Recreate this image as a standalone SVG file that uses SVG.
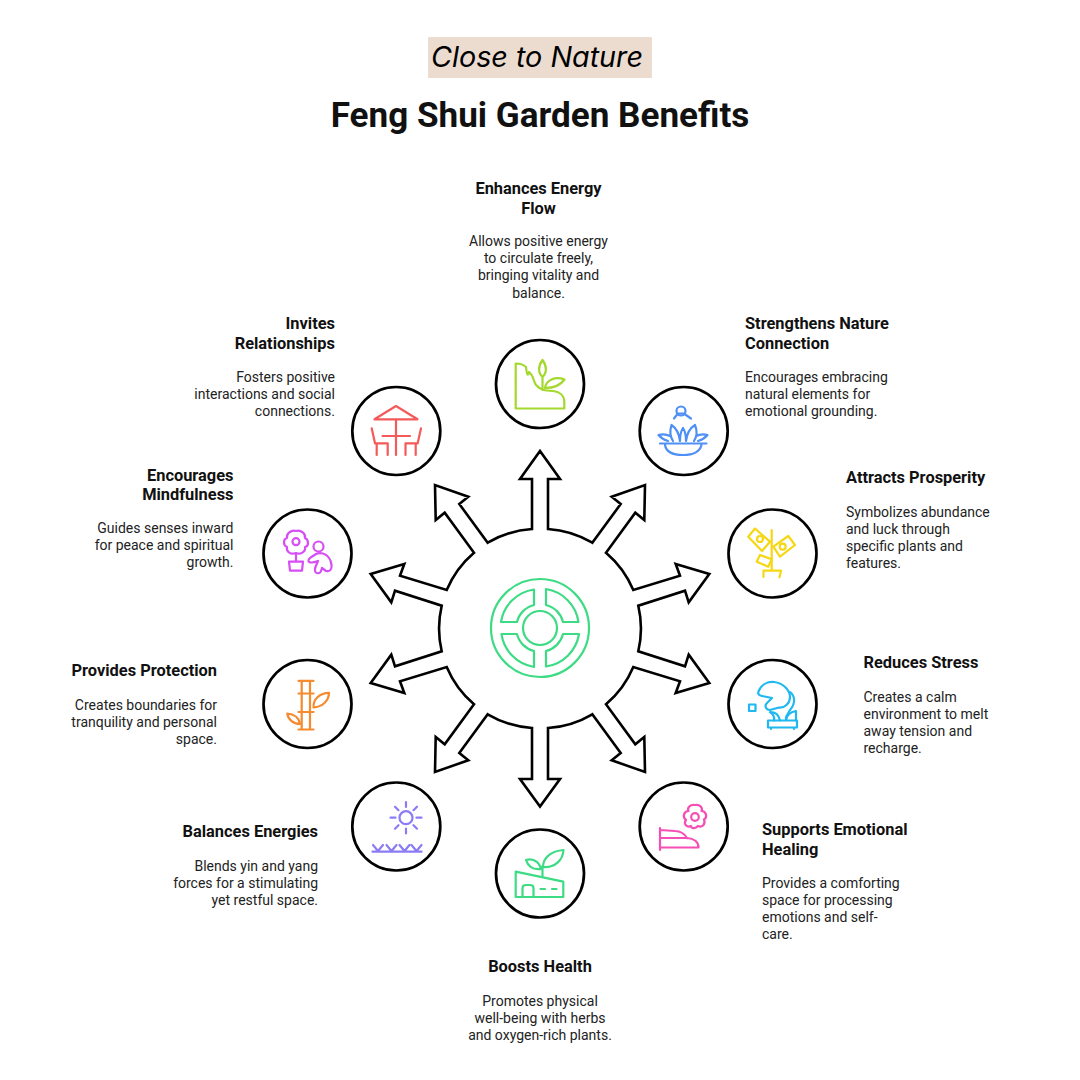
<svg xmlns="http://www.w3.org/2000/svg" width="1080" height="1080" viewBox="0 0 1080 1080">
<style>
text{font-family:Roboto,"Liberation Sans",sans-serif;fill:#111}
.h{font-size:16.4px;font-weight:700}
.d{font-size:14px;fill:#222}
.r{text-anchor:end}
.m{text-anchor:middle}
.c{fill:#fff;stroke:#000;stroke-width:2.7}
.i{fill:none;stroke-width:2.2;stroke-linecap:round;stroke-linejoin:round}
</style>
<rect width="1080" height="1080" fill="#fff"/>
<g id="header">
<rect x="428" y="37" width="224" height="41" rx="1" fill="#ecdcd0"/>
<text x="431" y="67" style="font-family:Inter,sans-serif;font-style:italic;font-size:28px;fill:#000" textLength="212" lengthAdjust="spacingAndGlyphs">Close to Nature</text>
<text x="540" y="127" class="m" style="font-size:35.1px;font-weight:700" fill="#111">Feng Shui Garden Benefits</text>
</g>
<g id="connectors">
<path fill="#fff" stroke="#000" stroke-width="2.6" stroke-linejoin="miter" d="M548,529 A100,100 0 0 1 592.3,542.7 L620.7,504 L611.7,496.7 L645,485 L644.3,520 L635.3,512.7 L606,552.7 A100,100 0 0 1 633.3,590 L680,575.7 L675.7,564 L709.3,574 L688.7,602.3 L685,590.7 L638.3,605.7 A100,100 0 0 1 638.3,651.3 L685,666.3 L688.7,654.7 L709.3,683 L675.7,693 L680,681.3 L633.3,667 A100,100 0 0 1 606,704.3 L635.3,744.3 L644.3,737 L645,772 L611.7,760.3 L620.7,753 L592.3,714.3 A100,100 0 0 1 548,728 L548,779 L560,779 L540,806.5 L520,779 L532,779 L532,728 A100,100 0 0 1 487.7,714.3 L459.3,753 L468.3,760.3 L435,772 L435.7,737 L444.7,744.3 L474,704.3 A100,100 0 0 1 446.7,667 L400,681.3 L404.3,693 L370.7,683 L391.3,654.7 L395,666.3 L441.7,651.3 A100,100 0 0 1 441.7,605.7 L395,590.7 L391.3,602.3 L370.7,574 L404.3,564 L400,575.7 L446.7,590 A100,100 0 0 1 474,552.7 L444.7,512.7 L435.7,520 L435,485 L468.3,496.7 L459.3,504 L487.7,542.7 A100,100 0 0 1 532,529 L532,479 L520,479 L540,451 L560,479 L548,479 Z"/>
</g>
<g id="hub" class="i" stroke="#3ddc84">
<circle cx="540" cy="628" r="49"/>
<circle cx="540" cy="628" r="17"/>
<path d="M534,589.5 A39,39 0 0 0 501,622 L517,622 A23,23 0 0 1 534,605 Z"/>
<path transform="rotate(90 540 628)" d="M534,589.5 A39,39 0 0 0 501,622 L517,622 A23,23 0 0 1 534,605 Z"/>
<path transform="rotate(180 540 628)" d="M534,589.5 A39,39 0 0 0 501,622 L517,622 A23,23 0 0 1 534,605 Z"/>
<path transform="rotate(270 540 628)" d="M534,589.5 A39,39 0 0 0 501,622 L517,622 A23,23 0 0 1 534,605 Z"/>
</g>
<g id="energy">
<circle class="c" cx="540" cy="384" r="44"/>
<g class="i" stroke="#a3d82c">
<path d="M515.7,363.5 V408.5 H564.3 V401.5 C564,395 559,391.5 553,391 C546,390.5 540,390 536,385 C533,381 534,376 529,372 C528,376 527,376 526,367 C523,364 519,363.5 515.7,363.5 Z"/>
<path d="M542.5,360 C538,366 538,373 542.5,377 C547,373 547,366 542.5,360 Z M542.5,377 V390"/>
<path d="M545,388 C546,380 555,376 564.5,379.5 C560,386 552,388 545,388 Z"/>
</g>
<text class="h m" x="538.5" y="194">Enhances Energy</text><text class="h m" x="538.5" y="214">Flow</text>
<text class="d m" x="538.5" y="246">Allows positive energy</text><text class="d m" x="538.5" y="263">to circulate freely,</text><text class="d m" x="538.5" y="280">bringing vitality and</text><text class="d m" x="538.5" y="298">balance.</text>
</g>
<g id="nature">
<circle class="c" cx="683.7" cy="431" r="44"/>
<g class="i" stroke="#4e90f5">
<circle cx="681" cy="411" r="4.5"/>
<path d="M677.5,414 L674,418.5 M684.5,414 L691,418.5 M677,413.5 H685"/>
<path d="M660,443.5 H706.5 M665,445 C666,451 672,455 683,455 C694,455 700,451 701.5,445"/>
<path d="M673,441 C669,435 670,430 671.5,425 C676,428 679,433 680,441 M694,441 C698,435 697,430 695,425 C690,428 687,433 686,441 M680,441 C680,434 681,431 683,428 C685,431 686,434 686,441 M668,441 C665,440 661,438 658.5,435 C662,434 666,434 670,436 M698,441 C701,440 705,438 707.5,435 C704,434 700,434 696,436"/>
</g>
<text class="h" x="745" y="329">Strengthens Nature</text><text class="h" x="745" y="349">Connection</text>
<text class="d" x="745" y="382">Encourages embracing</text><text class="d" x="745" y="399">natural elements for</text><text class="d" x="745" y="416">emotional grounding.</text>
</g>
<g id="prosperity">
<circle class="c" cx="772.5" cy="553.5" r="44"/>
<g class="i" stroke="#f5d714">
<path d="M771.7,530 V570.7 M763.5,577 V570.7 H781 L779.5,577.3"/>
<path d="M748.3,536.7 L755,528.5 L770,541.7 L762,551 Z"/><circle cx="760" cy="539" r="3"/>
<path d="M773.3,546.7 L788.3,536 L795,545 L780,556.7 Z"/><circle cx="782.7" cy="546.7" r="3"/>
<path d="M760,555 L771.7,559.3 L768.3,566.7 L756.7,561.7 Z"/>
</g>
<text class="h" x="846" y="483">Attracts Prosperity</text>
<text class="d" x="846" y="516.5">Symbolizes abundance</text><text class="d" x="846" y="533.5">and luck through</text><text class="d" x="846" y="550.5">specific plants and</text><text class="d" x="846" y="567.5">features.</text>
</g>
<g id="stress">
<circle class="c" cx="772.5" cy="704" r="44"/>
<g class="i" stroke="#1fb8f0">
<path d="M749,704.5 H755.5 V711 H749 Z"/>
<path d="M758.5,691.5 C761,685 767,681.5 774,682 C783,683 790,690 790,697 C790,703 785,708 779,707.5 L770,710 C766,710 764,706 767,703 L772,698 L762,696 C759,695.5 757.5,693.5 758.5,691.5 Z"/>
<path d="M790,692 C795,696 796,703 790,710 L786,717 V720"/>
<path d="M774,720.5 C775,716 773,714 770,712 C775,712 779,715 780,720.5 M796,720.5 V711 C791,712 787,714 786,720"/>
<path d="M768,720.5 H797 V727.5 H768 Z M771,727.5 V729 M794,727.5 V729"/>
</g>
<text class="h" x="863.5" y="668">Reduces Stress</text>
<text class="d" x="863.5" y="702">Creates a calm</text><text class="d" x="863.5" y="719">environment to melt</text><text class="d" x="863.5" y="736">away tension and</text><text class="d" x="863.5" y="753">recharge.</text>
</g>
<g id="healing">
<circle class="c" cx="683.7" cy="826.5" r="44"/>
<g class="i" stroke="#f54fb5">
<circle cx="695" cy="817" r="3.8"/>
<path d="M695,805 C700,804 703,808 701.5,811 C706,811 708,817 704,819.5 C706,824 702,828 698,826 C695,829.5 691,828 691,826 C687,828 683,824 686,820 C682,817 684,811 688.5,811 C687,808 690,804 695,805 Z"/>
<path d="M660,828 V850 M660,847.5 H698.5 C698.5,842 694,838.5 687,838 L660,838 M687,838 C684,833 680,831 675,831 L660,830"/>
</g>
<text class="h" x="762" y="835">Supports Emotional</text><text class="h" x="762" y="855">Healing</text>
<text class="d" x="762" y="888">Provides a comforting</text><text class="d" x="762" y="905">space for processing</text><text class="d" x="762" y="922">emotions and self-</text><text class="d" x="762" y="939">care.</text>
</g>
<g id="health">
<circle class="c" cx="540" cy="873.5" r="44"/>
<g class="i" stroke="#3ddc84">
<path d="M515.7,871.7 L563.3,881.7 V897 H515.7 Z"/>
<path d="M522.5,897 V888 C522.5,886 524,885 526,885 H530 C532,885 533.5,886 533.5,888 V897"/>
<path d="M540.5,889 H545 M552,889 H556.5"/>
<path d="M542.5,876 V866 M543,867 C543,857 552,851 563.5,850 C563,860 555,868 543,867 Z M541,869 C533,870 528,866 526,860 C532,858 539,861 541,869 Z"/>
</g>
<text class="h m" x="540" y="972">Boosts Health</text>
<text class="d m" x="540" y="1006">Promotes physical</text><text class="d m" x="540" y="1023">well-being with herbs</text><text class="d m" x="540" y="1040">and oxygen-rich plants.</text>
</g>
<g id="balance">
<circle class="c" cx="396.3" cy="826.5" r="44"/>
<g class="i" stroke="#8b7cf6">
<circle cx="406" cy="817.7" r="6.5"/>
<path d="M406,802 V807 M406,828.5 V833.5 M390.5,817.7 H395.5 M416.5,817.7 H421.5 M395,806.7 L398.5,810.2 M413.5,825.2 L417,828.7 M395,828.7 L398.5,825.2 M413.5,810.2 L417,806.7"/>
<path d="M372.5,851.7 H421.5 M373,845 L378,851 M383,845 L378,851 M386.5,845 L391.5,851 M396.5,845 L391.5,851 M399.5,845 L404.5,851 M409.5,845 L404.5,851 M411.5,845 L416.5,851 M421.5,845 L416.5,851"/>
</g>
<text class="h r" x="318" y="837">Balances Energies</text>
<text class="d r" x="318" y="871">Blends yin and yang</text><text class="d r" x="318" y="888">forces for a stimulating</text><text class="d r" x="318" y="905">yet restful space.</text>
</g>
<g id="protection">
<circle class="c" cx="307.5" cy="704" r="44"/>
<g class="i" stroke="#f58a2e">
<path d="M301.7,681 V729.5 M310,681 V729.5 M298.5,680.8 H313.5 M298.5,693.5 H313.5 M298.5,712 H313.5 M298.5,729.5 H313.5"/>
<path d="M313.5,707.5 C313,699 320,693 329,692.8 C329,701 322,707 313.5,707.5 Z"/>
<path d="M300,724 C299,718 294,714 287.3,713.5 C288,719 293,724 300,724 Z"/>
</g>
<text class="h r" x="217" y="676">Provides Protection</text>
<text class="d r" x="217" y="710">Creates boundaries for</text><text class="d r" x="217" y="727">tranquility and personal</text><text class="d r" x="217" y="744">space.</text>
</g>
<g id="mindfulness">
<circle class="c" cx="307.5" cy="553.5" r="44"/>
<g class="i" stroke="#d64ff5">
<circle cx="296" cy="541.7" r="3.5"/>
<path d="M296,531 C301,529.5 306,534 305,538 C309,540 309,546 305,547 C306,552 300,555 296,553 C291,555 286,552 287,547 C283,545 283,539 287,538 C286,534 291,529.5 296,531 Z"/>
<path d="M296,553 V561.7 M289,561.7 H303 L302,570.7 H290 Z"/>
<circle cx="318.5" cy="546.5" r="5"/>
<path d="M316,554 C312,557 308,558 308.5,561 C309,563 313,563 318,561 C317,565 314,567 315,571 C316,574 320,574 321,571 L322,568 L326,571 C330,572 332,569 331.5,565 C331,560 328,555 323,553.5 C320,553 318,553 316,554 Z"/>
</g>
<text class="h r" x="233.5" y="481">Encourages</text><text class="h r" x="233.5" y="500">Mindfulness</text>
<text class="d r" x="233.5" y="533">Guides senses inward</text><text class="d r" x="233.5" y="550">for peace and spiritual</text><text class="d r" x="233.5" y="567">growth.</text>
</g>
<g id="relationships">
<circle class="c" cx="396.3" cy="431" r="44"/>
<g class="i" stroke="#f55a5a">
<path d="M396,406 L374.5,419.3 H417.5 Z M396,419.3 V455 M382.5,436 H410"/>
<path d="M371.7,428.3 L375,443.3 H387.7 V455 M376.7,443.3 V455 M421,428.3 L417.7,443.3 H405.5 V455 M415.7,443.3 V455"/>
</g>
<text class="h r" x="335" y="329">Invites</text><text class="h r" x="335" y="349">Relationships</text>
<text class="d r" x="335" y="382">Fosters positive</text><text class="d r" x="335" y="399">interactions and social</text><text class="d r" x="335" y="415.5">connections.</text>
</g>
</svg>
